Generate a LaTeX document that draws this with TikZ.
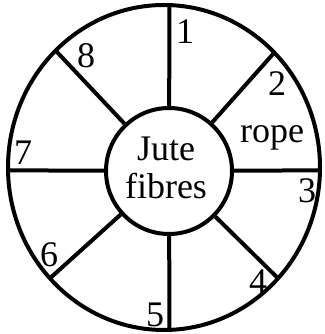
\documentclass[tikz,border=0pt]{standalone}
\usepackage{fontspec}
\setmainfont{Liberation Serif}
\usetikzlibrary{calc}
\begin{document}
\begin{tikzpicture}[x=1pt,y=1pt,line width=4pt,
  num/.style={inner sep=0pt,font=\fontsize{36}{38}\selectfont}]
  \useasboundingbox (0,0) rectangle (324,334);

  % Outer rim (a little taller than wide)
  \coordinate (rim) at (164,166.5);
  \draw (rim) ellipse (156pt and 162.5pt);

  % Hub with the fibres
  \node[circle,draw,minimum size=126pt,inner sep=0pt] (hub) at (169,163) {};
  \node[num,align=center] (fibres) at (166,166) {Jute\\fibres};

  % Spokes out to the rim
  \foreach \ang [count=\i] in {88,45,-1,-43,272,223,181,134}
    \coordinate (e\i) at ($(rim)+(\ang:156pt and 162.5pt)$);
  \foreach \i in {1,...,8}
    \draw (hub) -- (e\i);

  % Strand numbers
  \node[num] (n1) at (185,302) {1};
  \node[num] (n2) at (277,250) {2};
  \node[num] (n3) at (307,143) {3};
  \node[num] (n4) at (258,52) {4};
  \node[num] (n5) at (155,19) {5};
  \node[num] (n6) at (49,79) {6};
  \node[num] (n7) at (23,181) {7};
  \node[num] (n8) at (86,278) {8};
  \node[num,anchor=base] (rope) at (272,191) {rope};
\end{tikzpicture}
\end{document}
